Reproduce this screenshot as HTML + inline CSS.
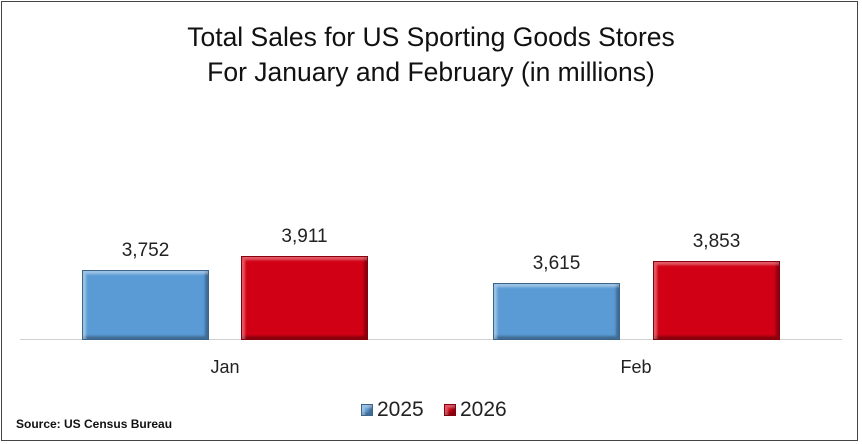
<!DOCTYPE html><html><head><style>
body{margin:0;background:#fff;}
#c{position:relative;width:862px;height:444px;overflow:hidden;font-family:"Liberation Sans",sans-serif;}
.b{position:absolute;border:1px solid rgba(0,0,0,.35);box-sizing:border-box;}
.bl{background:#5b9bd5;box-shadow:inset 3px 3px 2px rgba(255,255,255,.4),inset -3px -3px 2px rgba(0,0,0,.3);}
.rd{background:#d20014;box-shadow:inset 3px 3px 2px rgba(255,255,255,.35),inset -3px -3px 2px rgba(0,0,0,.35);}
.t{position:absolute;text-align:center;color:#222;}
</style></head><body><div id="c">
<div style="position:absolute;left:1px;top:1px;width:857px;height:440px;border:1.5px solid #444;box-sizing:border-box"></div>
<div class="t" style="left:0;width:862px;top:20px;font-size:26.5px;line-height:35px;color:#111">Total Sales for US Sporting Goods Stores<br>For January and February (in millions)</div>
<div style="position:absolute;left:20px;width:822px;top:339px;height:1px;background:#d0d0d0"></div>
<div class="b bl" style="left:82px;top:270px;width:127px;height:70px"></div>
<div class="b rd" style="left:241px;top:256px;width:127px;height:84px"></div>
<div class="b bl" style="left:493px;top:283px;width:127px;height:57px"></div>
<div class="b rd" style="left:653px;top:261px;width:127px;height:79px"></div>
<div class="t" style="left:82px;width:127px;top:240px;font-size:19px">3,752</div>
<div class="t" style="left:241px;width:127px;top:226px;font-size:19px">3,911</div>
<div class="t" style="left:493px;width:127px;top:253px;font-size:19px">3,615</div>
<div class="t" style="left:653px;width:127px;top:231px;font-size:19px">3,853</div>
<div class="t" style="left:175px;width:100px;top:357px;font-size:18px">Jan</div>
<div class="t" style="left:586px;width:100px;top:357px;font-size:18px">Feb</div>
<div class="b bl" style="left:361px;top:404px;width:12px;height:12px"></div>
<div class="t" style="left:377px;top:398px;font-size:21px;text-align:left">2025</div>
<div class="b rd" style="left:444px;top:404px;width:12px;height:12px"></div>
<div class="t" style="left:460px;top:398px;font-size:21px;text-align:left">2026</div>
<div class="t" style="left:16px;top:417px;font-size:12px;font-weight:bold;text-align:left;color:#111">Source: US Census Bureau</div>
</div></body></html>
